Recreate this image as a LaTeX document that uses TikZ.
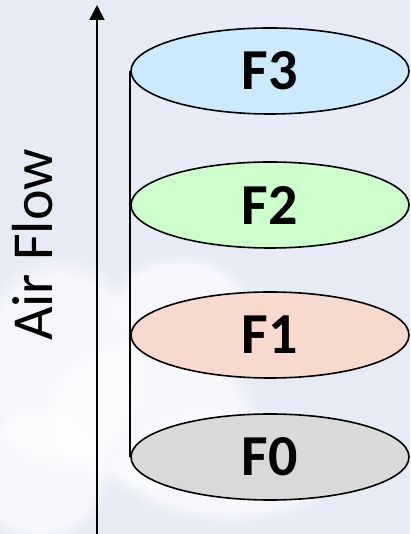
\documentclass[tikz,border=0pt]{standalone}
\usepackage{fontspec}
\setsansfont{Carlito}
\usepackage{xcolor}
\usepackage{tikz}
\usetikzlibrary{arrows.meta, positioning, shapes.geometric, fadings}

\definecolor{skybg}{HTML}{E7EBF5}
\definecolor{fthree}{HTML}{CCEAFF}
\definecolor{ftwo}{HTML}{CCFFCC}
\definecolor{fone}{HTML}{F8D9CE}
\definecolor{fzero}{HTML}{D9D9D9}

\begin{document}
\begin{tikzpicture}[
  x=1pt, y=1pt,
  disk/.style={
    ellipse, draw, line width=1.6pt, inner sep=0pt,
    minimum width=278pt, minimum height=86pt,
    font=\sffamily\bfseries\fontsize{58}{58}\selectfont
  },
  flow/.style={draw, line width=2pt, -{Triangle[width=15pt, length=15pt]}},
  cloud/.style={fill=white, path fading=circle with fuzzy edge 20 percent, opacity=0.6}
]

  \useasboundingbox (0,0) rectangle (410,534);

  % background and faint clouds
  \fill[skybg] (0,0) rectangle (410,534);
  \begin{scope}
    \clip (0,0) rectangle (410,534);
    \fill[cloud] (60,170) ellipse (90 and 110);
    \fill[cloud] (150,120) ellipse (110 and 80);
    \fill[cloud] (230,70) ellipse (120 and 60);
    \fill[cloud] (40,60) ellipse (70 and 70);
    \fill[cloud] (180,230) ellipse (70 and 50);
  \end{scope}

  % stacked layers
  \node [disk, fill=fthree] (f3) at (270,463) {F3};
  \node [disk, fill=ftwo]   (f2) at (270,329) {F2};
  \node [disk, fill=fone]   (f1) at (270,199) {F1};
  \node [disk, fill=fzero]  (f0) at (270,77)  {F0};

  \draw [line width=1.8pt] (f3.west) -- (f0.west);

  % air flow arrow
  \coordinate (flowin) at (97,0);
  \coordinate (flowout) at (97,529);
  \path [flow] (flowin) -- (flowout);
  \node [rotate=90, font=\sffamily\fontsize{58}{58}\selectfont] (airflow) at (33,289) {Air Flow};

\end{tikzpicture}
\end{document}
